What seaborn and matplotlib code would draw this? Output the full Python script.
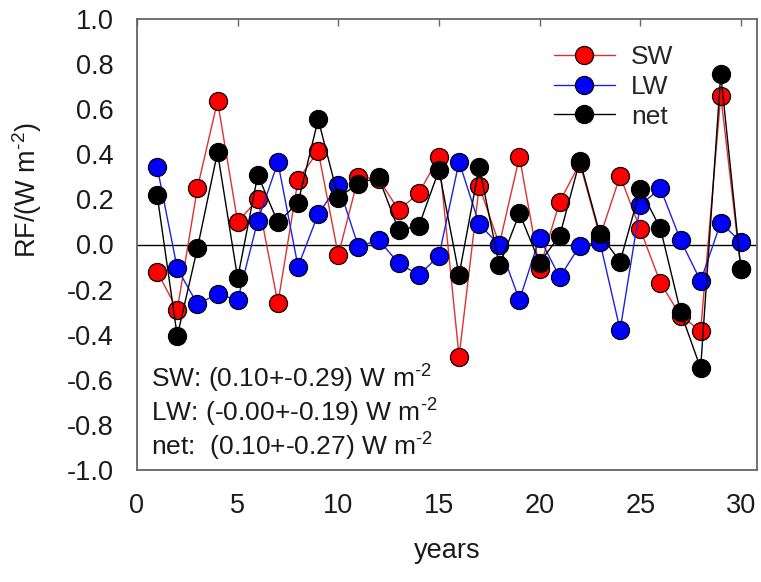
import numpy as np
import pandas as pd
import matplotlib
matplotlib.use("Agg")
import matplotlib.pyplot as plt
import seaborn as sns

years = list(range(1, 31))
sw = [-0.12, -0.29, 0.25, 0.636, 0.10, 0.20, -0.26, 0.286, 0.415, -0.047,
      0.30, 0.29, 0.153, 0.227, 0.39, -0.497, 0.259, 0.00, 0.389, -0.108,
      0.19, 0.36, 0.035, 0.304, 0.067, -0.169, -0.317, -0.382, 0.66, -0.11]
lw = [0.345, -0.106, -0.264, -0.22, -0.246, 0.106, 0.364, -0.098, 0.135, 0.264,
      -0.01, 0.02, -0.083, -0.135, -0.051, 0.367, 0.09, -0.003, -0.246, 0.03,
      -0.145, -0.005, 0.01, -0.379, 0.175, 0.249, 0.02, -0.162, 0.097, 0.011]
net = [0.22, -0.406, -0.017, 0.409, -0.15, 0.308, 0.098, 0.185, 0.555, 0.208,
       0.27, 0.298, 0.064, 0.082, 0.33, -0.135, 0.345, -0.093, 0.138, -0.08,
       0.039, 0.372, 0.045, -0.076, 0.245, 0.072, -0.298, -0.549, 0.756, -0.109]
series_names = ["SW", "LW", "net"]
series_colors = ["#ff0000", "#0000ff", "#000000"]
line_colors = ["#e03030", "#2020e0", "#000000"]
x_ticks = [0, 5, 10, 15, 20, 25, 30]
y_ticks = [-1.0, -0.8, -0.6, -0.4, -0.2, 0.0, 0.2, 0.4, 0.6, 0.8, 1.0]
y_tick_labels = ["-1.0", "-0.8", "-0.6", "-0.4", "-0.2", "0.0",
                 "0.2", "0.4", "0.6", "0.8", "1.0"]
unit = "W m$^{\u2010 2}$"
stats_text = ["SW: (0.10+-0.29) " + unit,
              "LW: (-0.00+-0.19) " + unit,
              "net:  (0.10+-0.27) " + unit]

df = pd.DataFrame({
    "year": years * 3,
    "RF": sw + lw + net,
    "series": sum([[n] * len(years) for n in series_names], []),
})

sns.set_style("white")
plt.rcParams["font.family"] = ["Liberation Sans", "DejaVu Sans"]
plt.rcParams["mathtext.fontset"] = "custom"
plt.rcParams["mathtext.rm"] = "Liberation Sans"
plt.rcParams["mathtext.it"] = "Liberation Sans:italic"
plt.rcParams["mathtext.bf"] = "Liberation Sans:bold"

W, H = 761, 582
fig = plt.figure(figsize=(W / 100, H / 100), dpi=100)
ax = fig.add_axes([137 / W, 1 - 470 / H, (757 - 137) / W, (470 - 19) / H])

ax.axhline(0, color="black", lw=1.0, zorder=1)

for name, col, lcol in zip(series_names, series_colors, line_colors):
    sub = df[df["series"] == name]
    sns.lineplot(data=sub, x="year", y="RF", ax=ax, color=lcol, lw=1.0,
                 marker="o", markersize=13, markerfacecolor=col,
                 markeredgecolor="black", markeredgewidth=0.9, label=name,
                 zorder=3)

ax.set_xlim(0, 30.8)
ax.set_ylim(-1.0, 1.0)
ax.set_xticks(x_ticks)
ax.set_yticks(y_ticks)
ax.set_yticklabels(y_tick_labels)

for sp in ax.spines.values():
    sp.set_color("#666666")
    sp.set_linewidth(1.3)

ax.tick_params(axis="both", which="major", direction="out", length=5, width=1.0,
               color="#666666", labelsize=19.5, labelcolor="#1a1a1a")
ax.tick_params(axis="y", pad=12)
ax.tick_params(axis="x", pad=11.5)

top = ax.secondary_xaxis("top")
top.set_xticks(x_ticks)
top.tick_params(direction="in", length=5, width=1.0, color="#666666",
                labeltop=False)
top.spines["top"].set_visible(False)

ax.set_xlabel("years", fontsize=19.5, color="#1a1a1a")
ax.xaxis.set_label_coords(0.5, -(538 - 470) / 451)
ax.set_ylabel("RF/(" + unit + ")", fontsize=19.5, color="#1a1a1a")
ax.yaxis.set_label_coords((44 - 137) / 620, (470 - 190) / 451)

ax.legend(loc="upper left", bbox_to_anchor=(554 / W, 1 - 45 / H),
          bbox_transform=fig.transFigure, frameon=False, borderpad=0,
          fontsize=19, handlelength=2.3, handletextpad=0.62,
          labelspacing=0.22, borderaxespad=0)

for i, t in enumerate(stats_text):
    fig.text(151 / W, 1 - (379 + 34 * i) / H, t, fontsize=19,
             color="#1a1a1a", va="center", ha="left")

fig.savefig("out.png", dpi=100, facecolor="white")
